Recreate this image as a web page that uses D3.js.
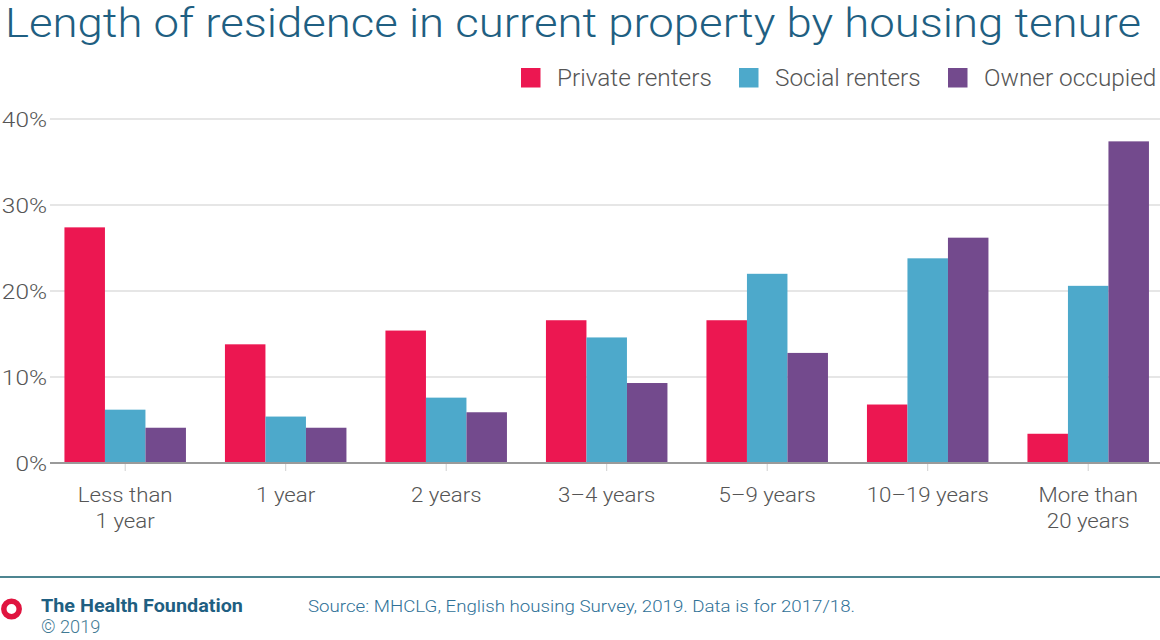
<!DOCTYPE html>
<html><head><meta charset="utf-8">
<script src="https://cdn.jsdelivr.net/npm/d3@7"></script>
<style>
html,body{margin:0;padding:0;background:#fff;}
text{font-family:Roboto,"Noto Sans",sans-serif;}
</style></head>
<body>
<svg id="chart" width="1160" height="640"></svg>
<script>
const categories = [["Less than","1 year"],["1 year"],["2 years"],["3–4 years"],["5–9 years"],["10–19 years"],["More than","20 years"]];
const seriesNames = ["Private renters","Social renters","Owner occupied"];
const privateRenters = [27.4, 13.8, 15.4, 16.6, 16.6, 6.8, 3.4];
const socialRenters  = [6.2, 5.4, 7.6, 14.6, 22.0, 23.8, 20.6];
const ownerOccupied  = [4.1, 4.1, 5.9, 9.3, 12.8, 26.2, 37.4];
const yTicks = [0, 10, 20, 30, 40];
const colors = ["#EC1751", "#4DA9CB", "#734A8D"];
const titleText = "Length of residence in current property by housing tenure";
const sourceText = "Source: MHCLG, English housing Survey, 2019. Data is for 2017/18.";

const series = [privateRenters, socialRenters, ownerOccupied];
const catKeys = categories.map(c => c.join(" "));
const svg = d3.select("#chart");

// horizontally widen text to mimic the wider original typeface
function stretch(sel, factor) {
  sel.each(function() {
    const w = this.getComputedTextLength();
    d3.select(this).attr("textLength", w * factor).attr("lengthAdjust", "spacingAndGlyphs");
  });
}

// title
svg.append("text").attr("x", 5).attr("y", 37)
  .attr("font-size", 41).attr("font-weight", 300).attr("fill", "#1F5F82")
  .text(titleText).call(stretch, 1.11);

// scales
const x0 = d3.scaleBand().domain(catKeys).range([50, 1163.4]).paddingInner(0.243).paddingOuter(0.09);
const x1 = d3.scaleBand().domain(seriesNames).range([0, x0.bandwidth()]);
const y = d3.scaleLinear().domain([0, 40]).range([463, 119]);

// gridlines
svg.append("g").selectAll("line").data(yTicks.filter(t => t > 0)).join("line")
  .attr("x1", 50).attr("x2", 1160).attr("y1", d => y(d)).attr("y2", d => y(d))
  .attr("stroke", "#DEDEDE").attr("stroke-width", 1.5);

// y labels
svg.append("g").selectAll("text").data(yTicks).join("text")
  .attr("x", 47).attr("y", d => y(d) + 7.5).attr("text-anchor", "end")
  .attr("font-size", 20).attr("font-weight", 300).attr("fill", "#555")
  .text(d => d + "%").call(stretch, 1.22);

// bars
const g = svg.append("g");
seriesNames.forEach((name, si) => {
  g.append("g").selectAll("rect").data(series[si]).join("rect")
    .attr("x", (d, i) => x0(catKeys[i]) + x1(name))
    .attr("width", x1.bandwidth())
    .attr("y", d => y(d))
    .attr("height", d => y(0) - y(d))
    .attr("fill", colors[si]);
});

// x axis
svg.append("line").attr("x1", 50).attr("x2", 1160).attr("y1", y(0)).attr("y2", y(0))
  .attr("stroke", "#9A9A9A").attr("stroke-width", 2);
svg.append("g").selectAll("line").data(catKeys).join("line")
  .attr("x1", d => x0(d) + x0.bandwidth() / 2).attr("x2", d => x0(d) + x0.bandwidth() / 2)
  .attr("y1", y(0) + 1).attr("y2", y(0) + 8).attr("stroke", "#D0D0D0").attr("stroke-width", 1);
const labelLines = [];
categories.forEach((c, i) => c.forEach((t, j) => labelLines.push({ key: catKeys[i], t, j })));
svg.append("g").selectAll("text").data(labelLines).join("text")
  .attr("x", d => x0(d.key) + x0.bandwidth() / 2).attr("y", d => 502 + d.j * 26)
  .attr("text-anchor", "middle").attr("font-size", 21).attr("font-weight", 300).attr("fill", "#555")
  .text(d => d.t).call(stretch, 1.06);

// legend
const legX = [521, 739, 948];
const leg = svg.append("g").selectAll("g").data(seriesNames).join("g")
  .attr("transform", (d, i) => `translate(${legX[i]},0)`);
leg.append("rect").attr("x", 0).attr("y", 68).attr("width", 19.5).attr("height", 19.5)
  .attr("fill", (d, i) => colors[i]);
leg.append("text").attr("x", 36).attr("y", 86).attr("font-size", 23).attr("font-weight", 300)
  .attr("fill", "#555").text(d => d).call(stretch, 1.06);

// footer
svg.append("line").attr("x1", 0).attr("x2", 1160).attr("y1", 577).attr("y2", 577)
  .attr("stroke", "#4E8591").attr("stroke-width", 2);
svg.append("circle").attr("cx", 11.5).attr("cy", 609).attr("r", 7.7)
  .attr("fill", "none").attr("stroke", "#E0143F").attr("stroke-width", 5.5);
svg.append("text").attr("x", 41).attr("y", 612).attr("font-size", 17.5).attr("font-weight", 700)
  .attr("fill", "#1F5F82").text("The Health Foundation").call(stretch, 1.13);
svg.append("text").attr("x", 41).attr("y", 633).attr("font-size", 17.5).attr("font-weight", 300)
  .attr("fill", "#3F7A94").text("© 2019").call(stretch, 1.04);
svg.append("text").attr("x", 308).attr("y", 612).attr("font-size", 17).attr("font-weight", 300)
  .attr("fill", "#2F7197").text(sourceText).call(stretch, 1.1);
</script>
</body></html>
